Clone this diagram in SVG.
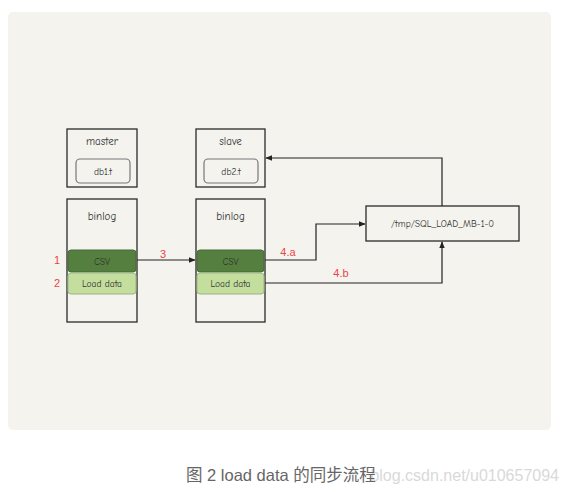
<svg xmlns="http://www.w3.org/2000/svg" width="567" height="494" viewBox="0 0 567 494">
<defs>
<marker id="ah" viewBox="0 0 10 10" refX="9" refY="5" markerWidth="7" markerHeight="7" orient="auto" markerUnits="userSpaceOnUse">
<path d="M0,1 L10,5 L0,9 z" fill="#222"/>
</marker>
<style>
.box{fill:#f4f3ee;stroke:#2a2a2a;stroke-width:1.3}
.inner{fill:#f4f3ee;stroke:#777;stroke-width:1.2}
.lbl{font-family:"Comic Neue","Liberation Sans",sans-serif;font-size:11px;fill:#333;text-anchor:middle}
.sm{font-size:9.5px}
.red{font-family:"Liberation Sans",sans-serif;font-size:11px;fill:#e84545;text-anchor:middle}
.csv{fill:#557f3f;stroke:#48683a;stroke-width:1}
.ld{fill:#c4de9e;stroke:#9cb585;stroke-width:1}
.conn{fill:none;stroke:#222;stroke-width:1.2}
</style>
</defs>
<rect x="8" y="12" width="543" height="418" rx="5" fill="#f4f3ee"/>

<g id="master">
<rect class="box" x="67" y="129" width="70" height="58"/>
<text class="lbl" x="102" y="145">master</text>
<rect class="inner" x="76" y="159" width="54" height="24" rx="4"/>
<text class="lbl sm" x="103" y="174.5">db1.t</text>
</g>

<g id="master-binlog">
<rect class="box" x="67" y="199" width="70" height="123"/>
<text class="lbl" x="102" y="220">binlog</text>
<rect class="csv" x="68" y="250" width="68" height="22" rx="3"/>
<text class="lbl sm" x="102" y="264.5">CSV</text>
<rect class="ld" x="68" y="273" width="68" height="21" rx="3"/>
<text class="lbl sm" x="102" y="286.5">Load data</text>
</g>

<g id="slave">
<rect class="box" x="196" y="129" width="69" height="58"/>
<text class="lbl" x="230.5" y="145">slave</text>
<rect class="inner" x="204" y="159" width="54" height="24" rx="4"/>
<text class="lbl sm" x="231" y="174.5">db2.t</text>
</g>

<g id="slave-binlog">
<rect class="box" x="196" y="199" width="69" height="123"/>
<text class="lbl" x="230.5" y="220">binlog</text>
<rect class="csv" x="197" y="250" width="67" height="22" rx="3"/>
<text class="lbl sm" x="230.5" y="264.5">CSV</text>
<rect class="ld" x="197" y="273" width="67" height="21" rx="3"/>
<text class="lbl sm" x="230.5" y="286.5">Load data</text>
</g>

<g id="tmpfile">
<rect class="box" x="366" y="206" width="153" height="35"/>
<text class="lbl sm" x="442.5" y="227">/tmp/SQL_LOAD_MB-1-0</text>
</g>

<g id="connectors">
<path class="conn" d="M137,260 L195,260" marker-end="url(#ah)"/>
<path class="conn" d="M265,260 L316,260 L316,224 L365,224" marker-end="url(#ah)"/>
<path class="conn" d="M265,283 L442,283 L442,242" marker-end="url(#ah)"/>
<path class="conn" d="M442,206 L442,158 L266,158" marker-end="url(#ah)"/>
</g>

<g id="labels">
<text class="red" x="57" y="264">1</text>
<text class="red" x="57" y="287">2</text>
<text class="red" x="163" y="258">3</text>
<text class="red" x="288" y="256">4.a</text>
<text class="red" x="341" y="277">4.b</text>
</g>

<text x="559" y="481" font-family="Liberation Sans, sans-serif" font-size="16" fill="#d9d9d9" text-anchor="end">blog.csdn.net/u010657094</text>
<text x="186" y="481" font-family="Liberation Sans, 'Noto Sans CJK SC', sans-serif" font-size="16.5" fill="#666">图 2 load data 的同步流程</text>
</svg>
